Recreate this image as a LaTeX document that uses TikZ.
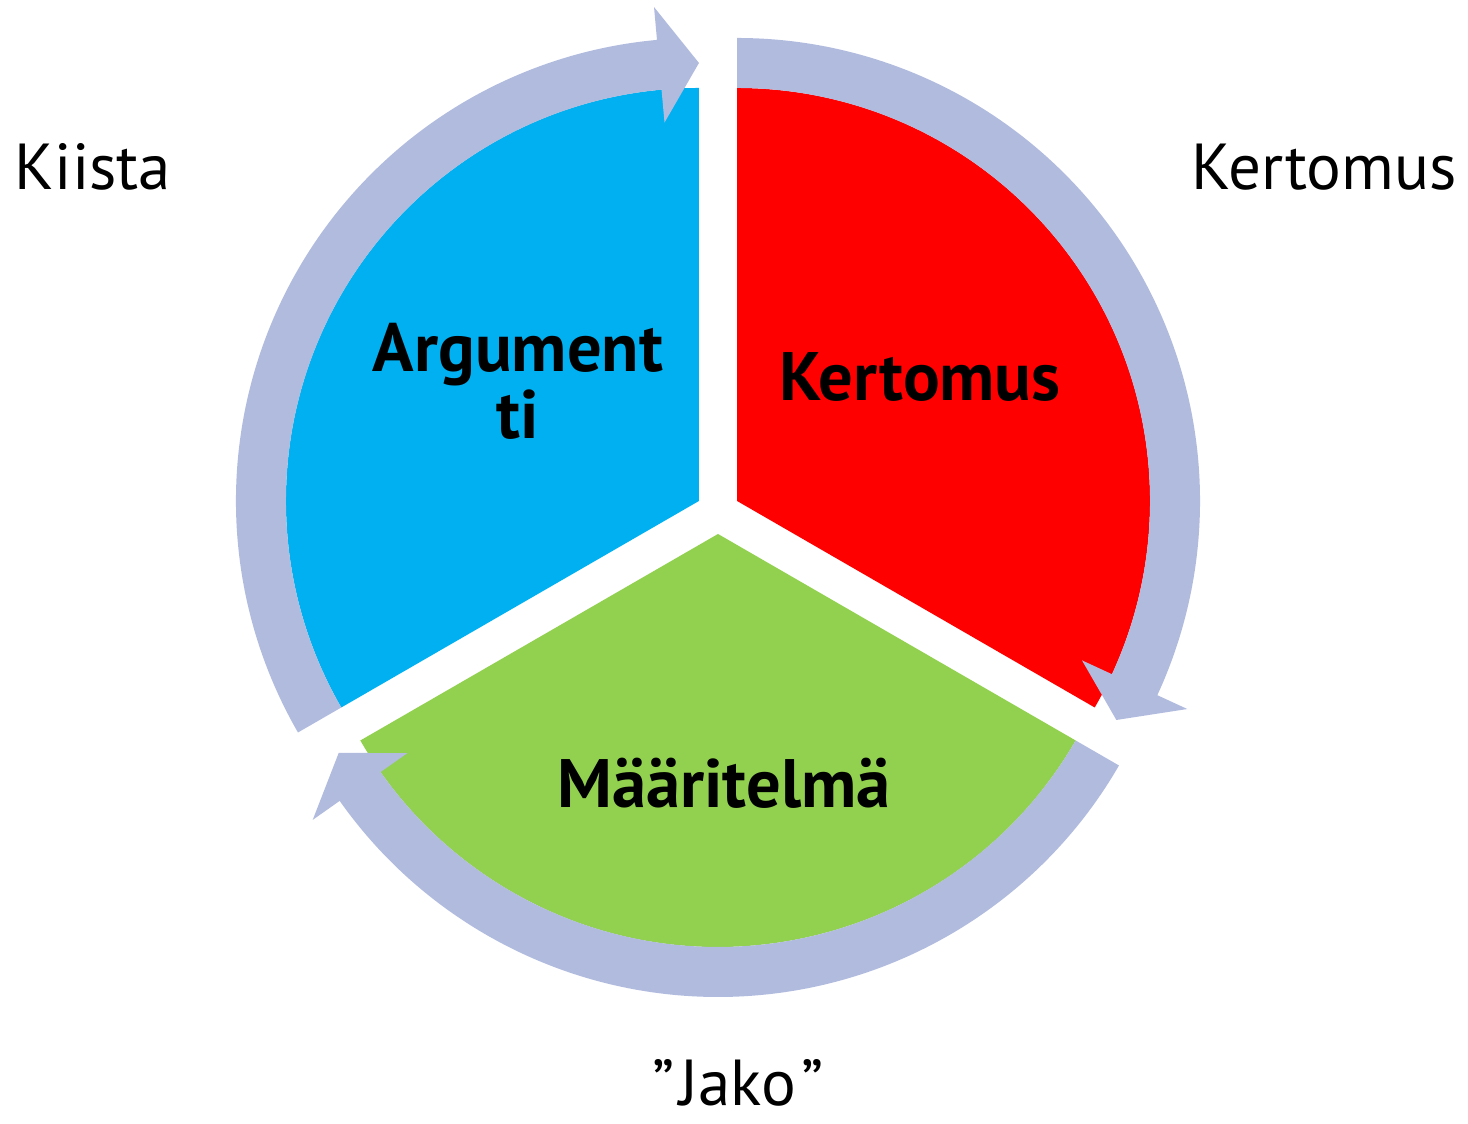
\documentclass[tikz,border=0pt]{standalone}
\usepackage{fontspec}
\setmainfont{PT Sans}
\usetikzlibrary{calc}
\definecolor{cycblue}{HTML}{00B0F0}
\definecolor{cycred}{HTML}{FF0000}
\definecolor{cycgreen}{HTML}{92D050}
\definecolor{cycring}{HTML}{B0BBDE}
\tikzset{
  segtext/.style={font=\bfseries\fontsize{39}{38}\selectfont,align=center,inner sep=0pt},
  sidetext/.style={font=\fontsize{37}{40}\selectfont,inner sep=0pt,anchor=base},
}
\begin{document}
\begin{tikzpicture}[x=0.02cm,y=0.02cm]
  \useasboundingbox (0,0) rectangle (1468,1124);
  \coordinate (mid) at (718,612);
  \coordinate (argapex) at ($(mid)+(150:22)$);
  \coordinate (kerapex) at ($(mid)+(30:22)$);
  \coordinate (maaapex) at ($(mid)+(270:22)$);
  % segments
  \fill[cycblue] (argapex) -- ++(90:413) arc[start angle=90,end angle=210,radius=413] -- cycle;
  \fill[cycred] (kerapex) -- ++(90:413) arc[start angle=90,end angle=-30,radius=413] -- cycle;
  \fill[cycgreen] (maaapex) -- ++(-30:413) arc[start angle=-30,end angle=-150,radius=413] -- cycle;
  % ring arrows, clockwise
  \foreach \p/\s in {argapex/210,kerapex/90,maaapex/-30}{
    \pgfmathsetmacro\e{\s-120}
    \pgfmathsetmacro\b{\s-114.8}
    \fill[cycring] ($(\p)+(\s:463)$) arc[start angle=\s,end angle=\b,radius=463]
      -- ($(\p)+(\b:496)$) -- ($(\p)+(\e:438)$) -- ($(\p)+(\b:380)$)
      -- ($(\p)+(\b:413)$) arc[start angle=\b,end angle=\s,radius=413] -- cycle;
  }
  \node[segtext] (argtxt) at (518,743) {Argument\\ti};
  \node[segtext] (kertxt) at (920,747) {Kertomus};
  \node[segtext,anchor=base] (maatxt) at (724,316) {Määritelmä};
  \node[sidetext] (kiista) at (93,934) {Kiista};
  \node[sidetext] (kertomus) at (1324,934) {Kertomus};
  \node[sidetext] (jako) at (738,18) {”\kern3pt Jako\kern3pt ”};
\end{tikzpicture}
\end{document}
